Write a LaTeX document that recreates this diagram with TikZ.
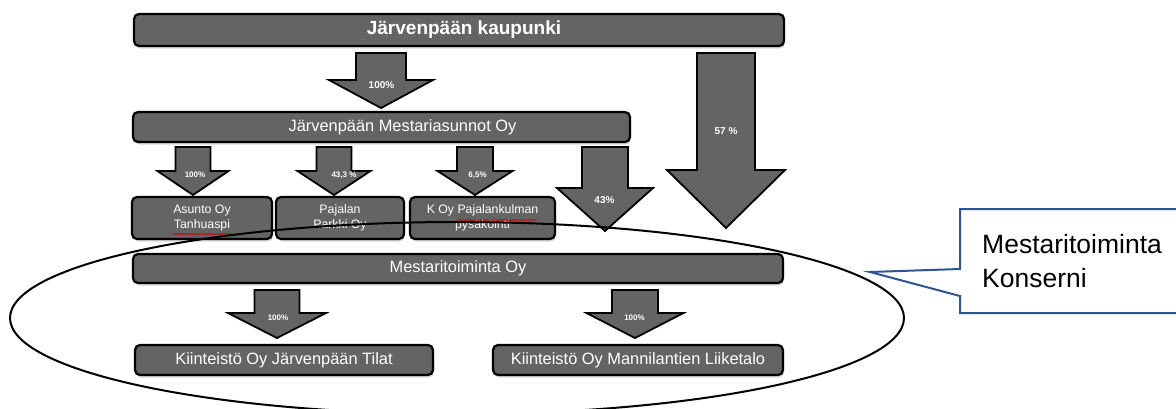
\documentclass[tikz,border=0pt]{standalone}
\usepackage{fontspec}
\setmainfont{Liberation Sans}
\usetikzlibrary{shadows,decorations.pathmorphing}
\definecolor{boxgray}{RGB}{100,100,100}
\definecolor{callblue}{RGB}{47,85,151}
\newcommand\blockarrow[6]{%
  \draw[bigarrow] ({#1-#5},#2) -- ({#1+#5},#2) -- ({#1+#5},#3) -- ({#1+#6},#3) -- (#1,#4) -- ({#1-#6},#3) -- ({#1-#5},#3) -- cycle;}
\tikzset{
  orgbox/.style={draw=black, line width=2.2pt, fill=boxgray, rounded corners=5pt, text=white,
    inner sep=0pt, align=center,
    drop shadow={shadow xshift=1pt, shadow yshift=-2.5pt, opacity=0.3}},
  bigarrow/.style={draw=black, line width=1.8pt, fill=boxgray, line join=miter},
  pct/.style={text=white, inner sep=0pt, font=\bfseries\fontsize{10}{12}\selectfont},
  pctsmall/.style={text=white, inner sep=0pt, font=\bfseries\fontsize{8}{10}\selectfont},
  midtext/.style={font=\fontsize{16.4}{19}\selectfont},
  smalltext/.style={font=\fontsize{12.3}{14.5}\selectfont},
  squiggle/.style={red!85!black, line width=0.6pt, decorate, decoration={snake, amplitude=0.6pt, segment length=2.5pt}},
}
\begin{document}
\begin{tikzpicture}[x=1pt, y=-1pt]
\useasboundingbox (0,0) rectangle (1176,408);

% boxes
\node[orgbox, minimum width=650pt, minimum height=32pt, font=\bfseries\fontsize{19}{22}\selectfont] (kaup) at (459,30) {\hspace*{10pt}Järvenpään kaupunki};
\node[orgbox, midtext, minimum width=497pt, minimum height=30pt] (mest) at (381.5,127) {\hspace*{42pt}Järvenpään Mestariasunnot Oy};
\node[orgbox, smalltext, minimum width=140pt, minimum height=42pt] (asunto) at (202,218) {Asunto Oy\\Tanhuaspi};
\node[orgbox, smalltext, minimum width=128pt, minimum height=42pt] (parkki) at (340,218) {Pajalan\\Parkki Oy};
\node[orgbox, smalltext, minimum width=145pt, minimum height=42pt] (pysak) at (482.5,218) {K Oy Pajalankulman\\pysäköinti};
\node[orgbox, midtext, minimum width=650pt, minimum height=29pt] (toim) at (458,268.5) {Mestaritoiminta Oy};
\node[orgbox, midtext, minimum width=298pt, minimum height=30pt] (tilat) at (284,360) {Kiinteistö Oy Järvenpään Tilat};
\node[orgbox, midtext, minimum width=290pt, minimum height=30pt] (liike) at (638,360) {Kiinteistö Oy Mannilantien Liiketalo};

% spell-check underlines
\draw[squiggle] (173,234) -- (232,234);
\draw[squiggle] (457,220) -- (537,220);

% block arrows
\blockarrow{381}{53}{80}{108}{25}{52}
\blockarrow{726}{53}{170}{228}{29}{59}
\blockarrow{605}{147}{188}{231}{23}{48}
\blockarrow{193}{147}{171}{195}{17.5}{35.5}
\blockarrow{334}{147}{171}{195}{17.5}{36.5}
\blockarrow{475}{147}{171}{195}{18}{37.5}
\blockarrow{277}{290}{313}{338}{22.5}{49}
\blockarrow{635}{290}{313}{338}{23}{48.5}

% labels
\node[pct] (p1) at (381.5,85) {100\%};
\node[pct] (p57) at (726,131) {57 \%};
\node[pct] (p43) at (604.5,200) {43\%};
\node[pctsmall] (pa) at (195,175) {100\%};
\node[pctsmall] (pb) at (344,175) {43,3 \%};
\node[pctsmall] (pc) at (477.5,175) {6,5\%};
\node[pctsmall] (pd) at (278,318) {100\%};
\node[pctsmall] (pe) at (634.5,318) {100\%};

% group ellipse
\draw[black, line width=2pt] (457,318) ellipse [x radius=447pt, y radius=96pt];

% callout
\coordinate (tip) at (870,272);
\draw[callblue, line width=2pt, fill=white, line join=miter] (960,209) -- (1185,209) -- (1185,313) -- (960,313) -- (960,296) -- (tip) -- (960,269) -- cycle;
\node[anchor=base west, align=left, inner sep=0pt, font=\fontsize{26.5}{34}\selectfont] (konserni) at (982,287) {Mestaritoiminta\\Konserni};
\end{tikzpicture}
\end{document}
